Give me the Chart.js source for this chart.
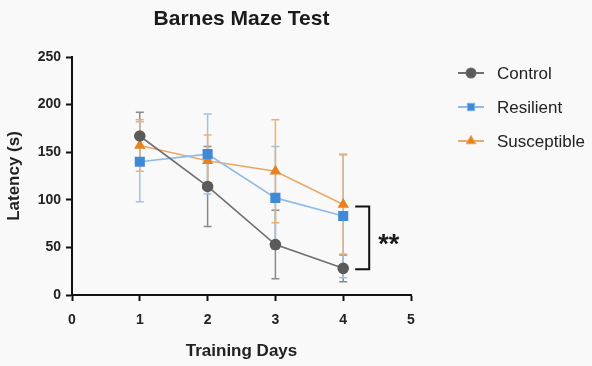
<!DOCTYPE html>
<html>
<head>
<meta charset="utf-8">
<script src="https://cdn.jsdelivr.net/npm/chart.js@4.4.1/dist/chart.umd.min.js"></script>
<style>
  html, body { margin: 0; padding: 0; background: #f9f9f9; }
  #wrap { width: 592px; height: 366px; position: relative; }
</style>
</head>
<body>
<div id="wrap"><canvas id="barnes-chart"></canvas></div>
<script>
// data
const days = [1, 2, 3, 4];
const xTicks = [0, 1, 2, 3, 4, 5];
const yTicks = [0, 50, 100, 150, 200, 250];

const controlMean = [167, 114, 53, 28];
const controlErr = [25, 42, 36, 14];
const resilientMean = [140, 148, 102, 83];
const resilientErr = [42, 42, 54, 65];
const susceptibleMean = [157, 141, 130, 95];
const susceptibleErr = [27, 27, 54, 52];

const series = [
  { label: "Control", mean: controlMean, err: controlErr, line: "#6f6f6f", marker: "#5a5a5a", bar: "#8a8a8a", style: "circle", radius: 5 },
  { label: "Resilient", mean: resilientMean, err: resilientErr, line: "#8dbbe6", marker: "#3f8ad8", bar: "#9cc3e8", style: "rect", radius: 6 },
  { label: "Susceptible", mean: susceptibleMean, err: susceptibleErr, line: "#eaa866", marker: "#e8821f", bar: "#efb06e", style: "triangle", radius: 5 },
];

const FONT = "'Liberation Sans', Arial, sans-serif";

const errorBars = {
  id: "errorBars",
  beforeDatasetsDraw(chart) {
    const { ctx, scales: { x, y } } = chart;
    ctx.save();
    ctx.lineWidth = 1.5;
    series.forEach((s) => {
      ctx.strokeStyle = s.bar;
      days.forEach((d, i) => {
        const px = x.getPixelForValue(d);
        const top = y.getPixelForValue(s.mean[i] + s.err[i]);
        const bot = y.getPixelForValue(s.mean[i] - s.err[i]);
        ctx.beginPath();
        ctx.moveTo(px, top); ctx.lineTo(px, bot);
        ctx.moveTo(px - 4, top); ctx.lineTo(px + 4, top);
        ctx.moveTo(px - 4, bot); ctx.lineTo(px + 4, bot);
        ctx.stroke();
      });
    });
    ctx.restore();
  },
};

const extras = {
  id: "extras",
  beforeDraw(chart) {
    const { ctx } = chart;
    ctx.save();
    ctx.fillStyle = "#f9f9f9";
    ctx.fillRect(0, 0, chart.width, chart.height);
    ctx.restore();
  },
  afterDraw(chart) {
    const { ctx, chartArea, scales: { x, y } } = chart;
    ctx.save();
    // title centred over plot area
    ctx.fillStyle = "#1a1a1a";
    ctx.font = "bold 21px " + FONT;
    ctx.textAlign = "center";
    ctx.textBaseline = "middle";
    ctx.fillText("Barnes Maze Test", (chartArea.left + chartArea.right) / 2, 19);

    // significance bracket between Susceptible and Control at day 4
    const last = days.length - 1;
    const bx = x.getPixelForValue(days[last]) + 26;
    const by1 = y.getPixelForValue(susceptibleMean[last] - 2);
    const by2 = y.getPixelForValue(controlMean[last] - 1);
    ctx.strokeStyle = "#111";
    ctx.lineWidth = 2;
    ctx.beginPath();
    ctx.moveTo(bx - 14, by1); ctx.lineTo(bx, by1); ctx.lineTo(bx, by2); ctx.lineTo(bx - 14, by2);
    ctx.stroke();
    ctx.font = "bold 27px " + FONT;
    ctx.textAlign = "left";
    ctx.fillText("**", bx + 9, (by1 + by2) / 2 + 8);

    // legend
    const lx = 458;
    const ly = [73, 107, 141];
    series.forEach((s, i) => {
      ctx.strokeStyle = s.line;
      ctx.lineWidth = 2;
      ctx.beginPath();
      ctx.moveTo(lx, ly[i]); ctx.lineTo(lx + 26, ly[i]);
      ctx.stroke();
      Chart.helpers.drawPoint(ctx, { pointStyle: s.style, radius: 4.5, borderWidth: 1 }, lx + 13, ly[i]);
      ctx.fillStyle = s.marker;
      ctx.fill();
      ctx.fillStyle = "#222";
      ctx.font = "17px " + FONT;
      ctx.textBaseline = "middle";
      ctx.fillText(s.label, lx + 39, ly[i] + 1);
    });
    ctx.restore();
  },
};

const tickFont = { family: FONT, size: 14, weight: "bold" };
const titleFont = { family: FONT, size: 17, weight: "bold" };

new Chart(document.getElementById("barnes-chart").getContext("2d"), {
  type: "line",
  data: {
    datasets: series.map((s) => ({
      label: s.label,
      data: days.map((d, i) => ({ x: d, y: s.mean[i] })),
      borderColor: s.line,
      borderWidth: 1.6,
      backgroundColor: s.marker,
      pointBackgroundColor: s.marker,
      pointBorderColor: s.marker,
      pointStyle: s.style,
      pointRadius: s.radius,
      fill: false,
      tension: 0,
    })),
  },
  options: {
    responsive: true,
    maintainAspectRatio: false,
    animation: false,
    layout: { padding: { left: 0, right: 181, top: 57, bottom: 0 } },
    plugins: {
      legend: { display: false },
      title: { display: false },
      tooltip: { enabled: false },
    },
    scales: {
      x: {
        type: "linear",
        min: 0,
        max: 5,
        afterBuildTicks: (scale) => { scale.ticks = xTicks.map((v) => ({ value: v })); },
        afterFit: (scale) => { scale.height = 71; },
        ticks: { color: "#222", font: tickFont, padding: 11 },
        title: { display: true, text: "Training Days", color: "#222", font: titleFont, padding: { top: 2 } },
        grid: { drawOnChartArea: false, drawTicks: true, tickLength: 6, tickColor: "#111", tickWidth: 2 },
        border: { color: "#111", width: 2 },
      },
      y: {
        min: 0,
        max: 250,
        afterBuildTicks: (scale) => { scale.ticks = yTicks.map((v) => ({ value: v })); },
        afterFit: (scale) => { scale.width = 72; },
        ticks: { color: "#222", font: tickFont, padding: 5 },
        title: { display: true, text: "Latency (s)", color: "#222", font: titleFont, padding: { top: 4, bottom: 0 } },
        grid: { drawOnChartArea: false, drawTicks: true, tickLength: 6, tickColor: "#111", tickWidth: 2 },
        border: { color: "#111", width: 2 },
      },
    },
  },
  plugins: [extras, errorBars],
});
</script>
</body>
</html>
